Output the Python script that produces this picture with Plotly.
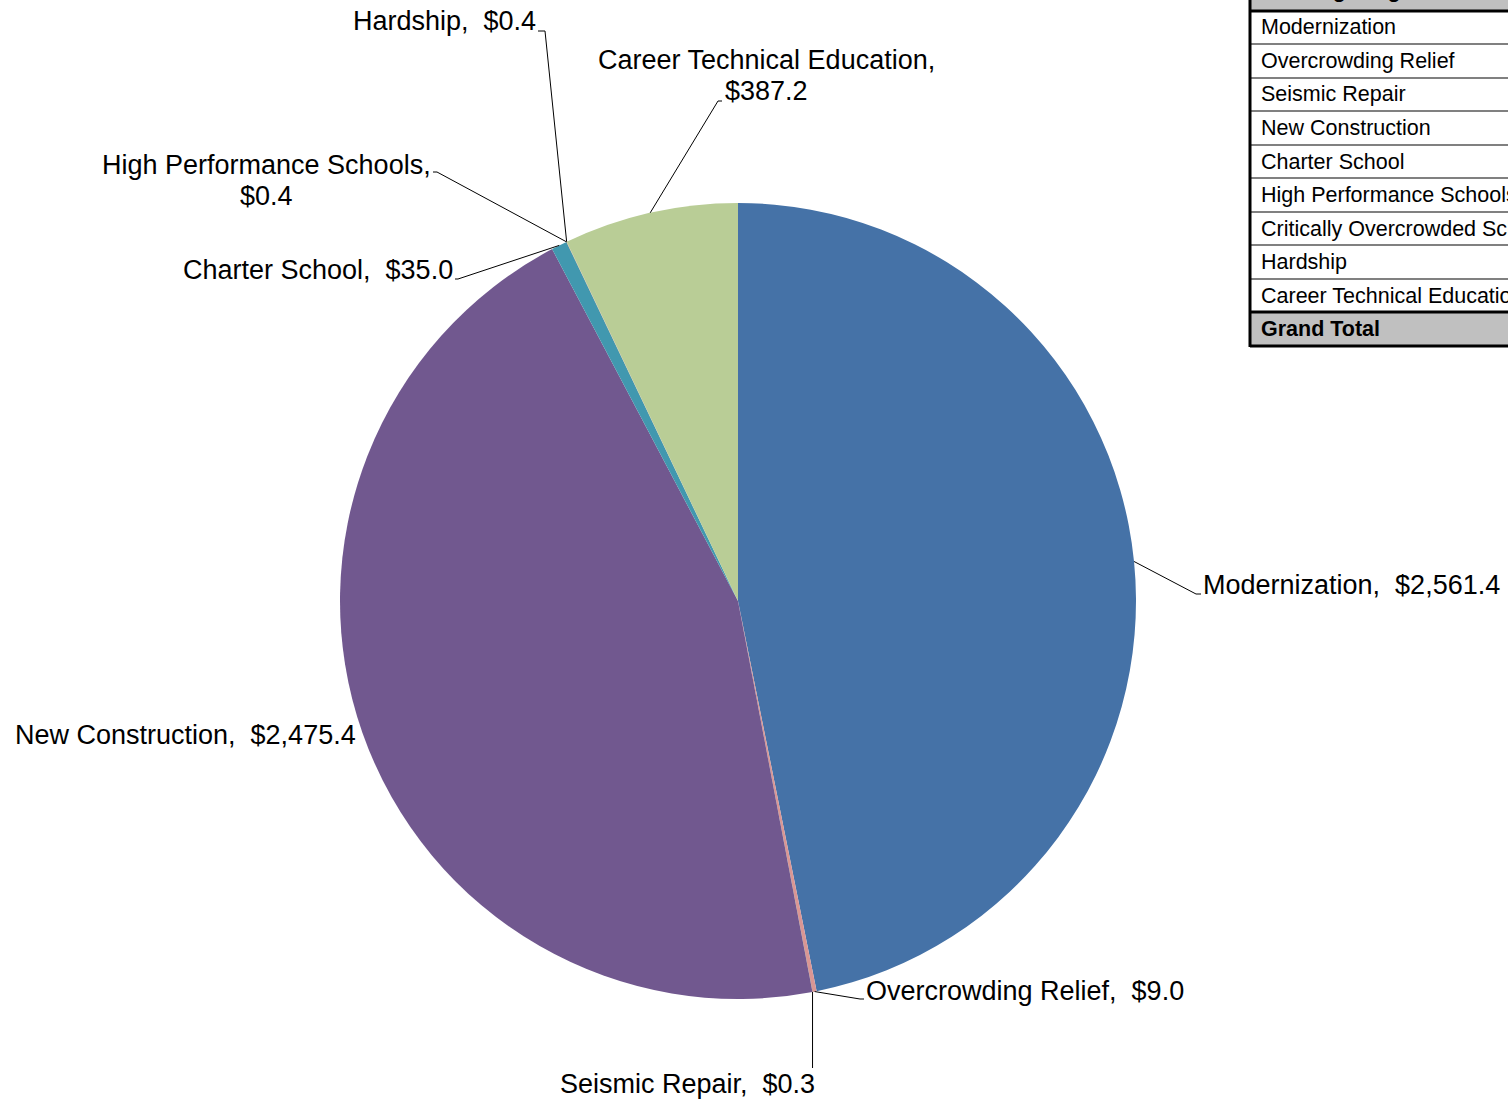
import math
import plotly.graph_objects as go

# ---------------- data ----------------
categories = ["Modernization", "Overcrowding Relief", "Seismic Repair", "New Construction",
              "Charter School", "High Performance Schools", "Hardship", "Career Technical Education"]
values = [2561.4, 9.0, 0.3, 2475.4, 35.0, 0.4, 0.4, 387.2]
colors = ["#4572A7", "#DA9694", "#89A54E", "#71588F", "#4198AF", "#DB843D", "#A99BBD", "#B9CD96"]

table_rows = ["Modernization", "Overcrowding Relief", "Seismic Repair", "New Construction",
              "Charter School", "High Performance Schools", "Critically Overcrowded Schools",
              "Hardship", "Career Technical Education"]
table_header = "Funding Program"
table_total = "Grand Total"

W, H = 1508, 1101
CX, CY, R = 738, 601, 398
FONT = "Arial, Liberation Sans, sans-serif"
LABEL_SIZE = 27

def px(x):
    return x / W

def py(y):
    return 1 - y / H

fig = go.Figure()
fig.add_trace(go.Pie(
    labels=categories, values=values, sort=False, direction="clockwise", rotation=0,
    marker=dict(colors=colors, line=dict(width=0)),
    textinfo="none", hoverinfo="label+value", showlegend=False,
    domain=dict(x=[px(CX - R), px(CX + R)], y=[py(CY + R), py(CY - R)]),
))

# anchor points on pie edge computed from the data
total = sum(values)
anchors = {}
cum = 0.0
for c, v in zip(categories, values):
    mid = (cum + v / 2) / total * 2 * math.pi
    anchors[c] = (CX + R * math.sin(mid), CY - R * math.cos(mid))
    cum += v

# label layout: (x, y, xanchor, leader elbow points)
label_layout = {
    "Modernization": (1203, 585, "left", [(1196, 594), (1201, 594)]),
    "Overcrowding Relief": (866, 991, "left", [(860, 999), (864, 999)]),
    "Seismic Repair": (815, 1084, "right", [(None, 1068)]),
    "New Construction": (356, 735, "right", []),
    "Charter School": (453, 270, "right", [(458, 279), (455, 279)]),
    "High Performance Schools": (266, 180, "center", [(437, 172), (433, 172)]),
    "Hardship": (536, 21, "right", [(545, 31), (538, 31)]),
    "Career Technical Education": (766, 76, "center", [(718, 101), (722, 101)]),
}
two_line = {"High Performance Schools", "Career Technical Education"}
LINE_GAP = 31

shapes = []
annotations = []

def add_text(text, x, y, xa, size=LABEL_SIZE):
    annotations.append(dict(
        x=px(x), y=py(y), xref="paper", yref="paper", text=text, showarrow=False,
        xanchor=xa, yanchor="middle", align="center",
        font=dict(family=FONT, size=size, color="#000000"), borderpad=0, borderwidth=0,
    ))

for c, v in zip(categories, values):
    x, y, xa, elbows = label_layout[c]
    val = f"${v:,.1f}"
    if c in two_line:
        add_text(f"{c},", x, y - LINE_GAP / 2, xa)
        add_text(val, x, y + LINE_GAP / 2, xa)
    else:
        add_text(f"{c},\u00a0 {val}", x, y, xa)
    if elbows:
        ax, ay = anchors[c]
        pts = [(ax, ay)] + [((ax if ex is None else ex), ey) for ex, ey in elbows]
        path = "M " + " L ".join(f"{px(p[0])},{py(p[1])}" for p in pts)
        shapes.append(dict(type="path", path=path, xref="paper", yref="paper",
                           line=dict(color="#000000", width=1)))

# ---------------- table (top right) ----------------
TL = 1250
TR = 1560
TX = 1261
TABLE_SIZE = 21.5
row_edges = [11, 44, 78, 111, 145, 178, 212, 245, 279, 312, 346]
shapes.append(dict(type="rect", xref="paper", yref="paper", x0=px(TL), x1=px(TR),
                   y0=py(-20), y1=py(row_edges[0]), fillcolor="#C0C0C0", line=dict(width=0), layer="below"))
shapes.append(dict(type="rect", xref="paper", yref="paper", x0=px(TL), x1=px(TR),
                   y0=py(row_edges[-2]), y1=py(row_edges[-1]), fillcolor="#C0C0C0", line=dict(width=0), layer="below"))
for i, ye in enumerate(row_edges):
    thick = i in (0, len(row_edges) - 2, len(row_edges) - 1)
    shapes.append(dict(type="line", xref="paper", yref="paper", x0=px(TL), x1=px(TR),
                       y0=py(ye), y1=py(ye),
                       line=dict(color="#000000" if thick else "#808080", width=3 if thick else 2)))
shapes.append(dict(type="line", xref="paper", yref="paper", x0=px(TL), x1=px(TL),
                   y0=py(-20), y1=py(row_edges[-1] + 1), line=dict(color="#000000", width=3)))

add_text(f"<b>{table_header}</b>", TX, -10, "left", TABLE_SIZE)
for i, name in enumerate(table_rows):
    add_text(name, TX, (row_edges[i] + row_edges[i + 1]) / 2, "left", TABLE_SIZE)
add_text(f"<b>{table_total}</b>", TX, (row_edges[-2] + row_edges[-1]) / 2, "left", TABLE_SIZE)

fig.update_layout(
    width=W, height=H, margin=dict(l=0, r=0, t=0, b=0),
    paper_bgcolor="#FFFFFF", plot_bgcolor="#FFFFFF",
    shapes=shapes, annotations=annotations, showlegend=False,
)

fig.write_html("out.html", config={"displayModeBar": False},
               post_script="document.body.style.margin='0';document.body.style.overflow='hidden';")
